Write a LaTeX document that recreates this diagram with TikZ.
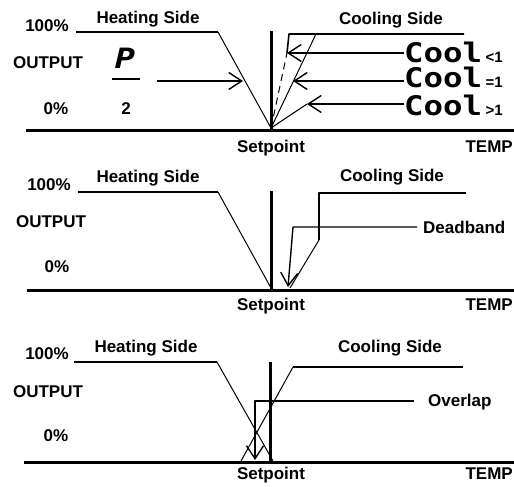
\documentclass[tikz,border=0pt]{standalone}
\usepackage{fontspec}
\setmainfont{Liberation Sans}
\newfontfamily\dispfont[FakeStretch=1.2]{DejaVu Sans Mono}
\usetikzlibrary{arrows.meta,positioning}

\begin{document}
\begin{tikzpicture}[
      x=1pt, y=-1pt, line join=round,
      >={Straight Barb[length=13pt,width=17pt]},
      font=\fontsize{17}{19}\selectfont\bfseries,
      lbl/.style={inner sep=0pt, anchor=base},
      tag/.style={inner sep=0pt, anchor=base west},
      axisline/.style={line width=3pt},
      spline/.style={line width=3pt},
      levelline/.style={line width=1.6pt},
      ramp/.style={line width=1pt},
      callout/.style={line width=1.4pt},
      cool/.style={inner sep=0pt, anchor=base west,
        font=\dispfont\fontsize{27}{27}\selectfont\bfseries},
      ratio/.style={inner sep=0pt,
        font=\fontsize{15}{16}\selectfont\bfseries}
    ]

    \useasboundingbox (0,0) rectangle (514,487);

    % ------------------ Layout ------------------
    \def\axA{130}
    \def\axB{290}
    \def\axC{462}

    % ================== Top panel ==================
    \node[lbl] (hundA) at (47,32) {100\%};
    \node[lbl] (outA) at (48,69) {OUTPUT};
    \node[lbl] (zeroA) at (56,114) {0\%};
    \node[lbl] (heatA) at (148,24) {Heating Side};
    \node[lbl] (coolA) at (391,25) {Cooling Side};
    \node[lbl] (spA) at (271,152) {Setpoint};
    \node[lbl, anchor=base east] (tempA) at (513,152) {TEMP};

    % ------------------ Axis and setpoint ------------------
    \coordinate (axAl) at (26,\axA);
    \coordinate (axAr) at (514,\axA);
    \draw[axisline] (axAl) -- (axAr);
    \coordinate (spAtop) at (271,31);
    \coordinate (zA) at (271,128);
    \draw[spline] (spAtop) -- (271,\axA);

    % ------------------ Heating ramp ------------------
    \coordinate (hAl) at (76,32);
    \coordinate (hAk) at (218,32);
    \draw[levelline] (hAl) -- (hAk);
    \draw[ramp] (hAk) -- (zA);

    % ------------------ P / 2 ------------------
    \node[lbl, font=\dispfont\fontsize{28}{28}\selectfont\bfseries\itshape]
    (pA) at (125,68) {P};
    \coordinate (barAl) at (112,79);
    \coordinate (barAr) at (140,79);
    \draw[line width=2.5pt] (barAl) -- (barAr);
    \node[lbl] (twoA) at (126,114) {2};
    \coordinate (pTail) at (157,81);
    \coordinate (pTip) at (243,81);
    \draw[callout,->] (pTail) -- (pTip);

    % ------------------ Cool settings ------------------
    \node[cool] (coolLt) at (404,63) {Cool};
    \node[ratio, right=3pt of coolLt.base east, anchor=base west]
    (ltA) {\textless1};
    \node[cool] (coolEq) at (404,88) {Cool};
    \node[ratio, right=3pt of coolEq.base east, anchor=base west]
    (eqA) {=1};
    \node[cool] (coolGt) at (404,115) {Cool};
    \node[ratio, right=3pt of coolGt.base east, anchor=base west]
    (gtA) {\textgreater1};

    \coordinate (cLtTip) at (287,53);
    \coordinate (cLtBend) at (289,34);
    \coordinate (cLtEnd) at (464,34);
    \draw[ramp, dash pattern=on 7pt off 5pt] (zA) -- (cLtTip);
    \draw[levelline] (cLtTip) -- (cLtBend) -- (cLtEnd);
    \draw[callout,->] (cLtTip -| coolLt.west) -- (cLtTip);

    \coordinate (cEqTop) at (316,34);
    \coordinate (cEqTip) at (293,81);
    \draw[ramp] (zA) -- (cEqTop);
    \draw[callout,->] (cEqTip -| coolEq.west) -- (cEqTip);

    \coordinate (cGtTip) at (307,104);
    \draw[ramp] (zA) -- (cGtTip);
    \draw[callout,->] (cGtTip -| coolGt.west) -- (cGtTip);

    % ================== Middle panel ==================
    \node[lbl] (hundB) at (49,190) {100\%};
    \node[lbl] (outB) at (51,227) {OUTPUT};
    \node[lbl] (zeroB) at (57,272) {0\%};
    \node[lbl] (heatB) at (148,182) {Heating Side};
    \node[lbl] (coolB) at (392,181) {Cooling Side};
    \node[lbl] (spB) at (271,310) {Setpoint};
    \node[lbl, anchor=base east] (tempB) at (513,310) {TEMP};
    \node[tag] (dbB) at (423,233) {Deadband};

    \coordinate (axBl) at (27,\axB);
    \coordinate (axBr) at (514,\axB);
    \draw[axisline] (axBl) -- (axBr);
    \coordinate (spBtop) at (271,191);
    \draw[spline] (spBtop) -- (271,\axB);

    % ------------------ Heating ramp ------------------
    \coordinate (hBl) at (78,192);
    \coordinate (hBk) at (218,192);
    \coordinate (zB) at (271,288);
    \draw[levelline] (hBl) -- (hBk);
    \draw[ramp] (hBk) -- (zB);

    % ------------------ Cooling ramp ------------------
    \coordinate (cBr) at (466,193);
    \coordinate (cBk) at (319,193);
    \coordinate (cBm) at (319,240);
    \coordinate (cBz) at (290,288);
    \draw[levelline] (cBr) -- (cBk) -- (cBm);
    \draw[ramp] (cBm) -- (cBz);

    % ------------------ Deadband callout ------------------
    \coordinate (dbBend) at (293,227);
    \coordinate (dbTip) at (288,287);
    \draw[callout,->] ([xshift=-6pt]dbBend -| dbB.west) -- (dbBend) -- (dbTip);

    % ================== Bottom panel ==================
    \node[lbl] (hundC) at (47,359) {100\%};
    \node[lbl] (outC) at (48,397) {OUTPUT};
    \node[lbl] (zeroC) at (56,441) {0\%};
    \node[lbl] (heatC) at (146,352) {Heating Side};
    \node[lbl] (coolC) at (390,352) {Cooling Side};
    \node[lbl] (spC) at (271,479) {Setpoint};
    \node[lbl, anchor=base east] (tempC) at (513,479) {TEMP};
    \node[tag] (ovC) at (428,406) {Overlap};

    \coordinate (axCl) at (24,\axC);
    \coordinate (axCr) at (514,\axC);
    \draw[axisline] (axCl) -- (axCr);
    \coordinate (spCtop) at (270,362);
    \draw[spline] (spCtop) -- (270,\axC);

    % ------------------ Heating ramp ------------------
    \coordinate (hCl) at (74,362);
    \coordinate (hCk) at (217,362);
    \coordinate (hCz) at (273,461);
    \draw[levelline] (hCl) -- (hCk);
    \draw[ramp] (hCk) -- (hCz);

    % ------------------ Cooling ramp ------------------
    \coordinate (cCz) at (241,461);
    \coordinate (cCk) at (293,367);
    \coordinate (cCr) at (463,367);
    \draw[ramp] (cCz) -- (cCk);
    \draw[levelline] (cCk) -- (cCr);

    % ------------------ Overlap callout ------------------
    \coordinate (ovBend) at (255,401);
    \coordinate (ovTip) at (255,460);
    \draw[callout,->] ([xshift=-14pt]ovBend -| ovC.west) -- (ovBend) -- (ovTip);

  \end{tikzpicture}
\end{document}
